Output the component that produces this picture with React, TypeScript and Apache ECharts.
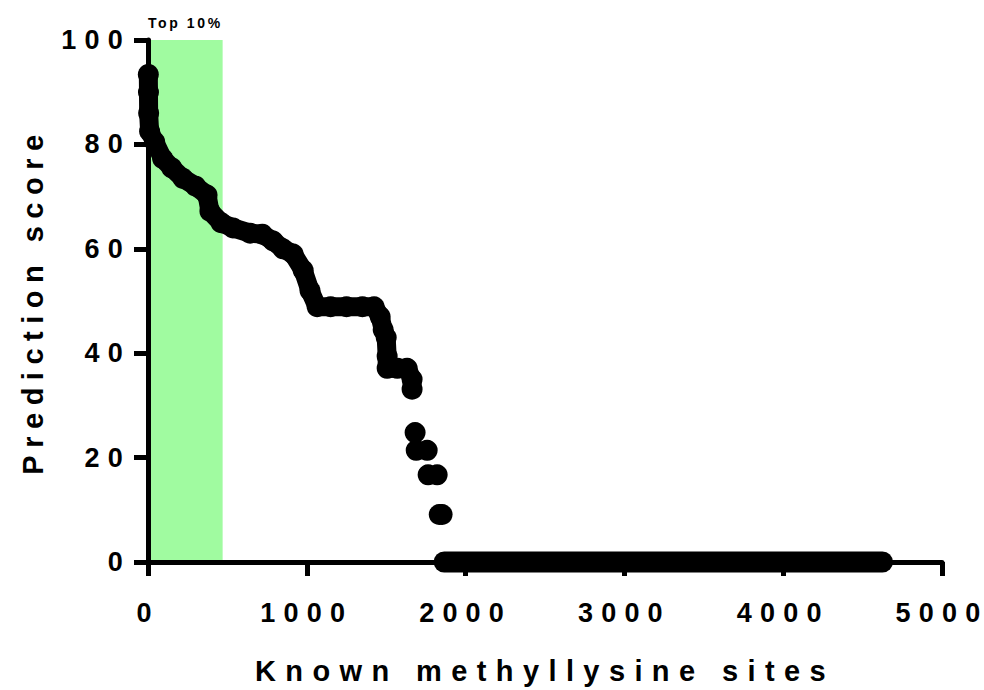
import React, { useEffect, useRef } from 'react';
import * as echarts from 'echarts';

// Axis ticks
const xTicks = [0, 1000, 2000, 3000, 4000, 5000];
const yTicks = [0, 20, 40, 60, 80, 100];

// Rank (x) and prediction score (y) of the densely packed, overlapping run of sites
const bandX = [2, 3, 4, 10, 42, 92, 150, 220, 300, 372, 390, 460, 535, 643, 720, 788, 850, 914, 977, 1020, 1065, 1150, 1250, 1350, 1424, 1462, 1481, 1500, 1506, 1506, 1570, 1632, 1663, 1663];
const bandY = [93.4, 90, 86, 82.5, 80.5, 77.3, 75.5, 73.5, 72, 70.3, 67.2, 65, 64, 63, 62.8, 61.5, 60, 59, 55.9, 52, 48.9, 48.9, 48.9, 48.9, 48.9, 47, 44.5, 43, 39.4, 37.1, 37.1, 37.1, 35, 33.1];

// Sparse sites
const looseX = [1682, 1689, 1758, 1764, 1821, 1834, 1852];
const looseY = [24.8, 21.4, 21.4, 16.7, 16.7, 9.1, 9.1];

// Sites scoring zero (continuous run)
const zeroX = [1865, 4625];
const zeroY = [0, 0];

// Top 10% region
const topLabel = 'Top 10%';
const topStart = 0;
const topEnd = 470;

const xName = 'Known methyllysine sites';
const yName = 'Prediction score';

const FONT = '"Liberation Sans", Arial, Helvetica, sans-serif';

const spacing: Record<string, number> = {
  [xName]: 9.4,
  [yName]: 7.5,
  [topLabel]: 2.6,
};

export default function App() {
  const ref = useRef<HTMLDivElement>(null);

  useEffect(() => {
    const el = ref.current;
    if (!el) return;
    const chart = echarts.init(el, undefined, { renderer: 'svg' });

    const axisCommon = {
      type: 'value' as const,
      z: 2,
      splitLine: { show: false },
      axisLine: { show: true, onZero: false, lineStyle: { color: '#000', width: 5 } },
      axisTick: { show: true, length: 14, lineStyle: { color: '#000', width: 5 } },
      nameLocation: 'middle' as const,
      nameTextStyle: { color: '#000', fontSize: 29, fontWeight: 'bold' as const, fontFamily: FONT },
    };

    chart.setOption({
      animation: false,
      grid: { left: 148, top: 40, width: 794, height: 528, containLabel: false },
      xAxis: {
        ...axisCommon,
        min: xTicks[0],
        max: xTicks[xTicks.length - 1],
        interval: xTicks[1] - xTicks[0],
        axisLabel: {
          color: '#000', fontSize: 27, fontWeight: 'bold', fontFamily: FONT, margin: 37,
          formatter: (v: number) => String(v),
        },
        name: xName,
        nameGap: 94,
      },
      yAxis: {
        ...axisCommon,
        min: yTicks[0],
        max: yTicks[yTicks.length - 1],
        interval: yTicks[1] - yTicks[0],
        axisLabel: {
          color: '#000', fontSize: 27, fontWeight: 'bold', fontFamily: FONT, margin: 17,
          formatter: (v: number) => String(v),
        },
        name: yName,
        nameGap: 101,
      },
      series: [
        {
          type: 'line',
          data: [],
          z: 1,
          silent: true,
          markArea: {
            silent: true,
            itemStyle: { color: '#a0fba0' },
            label: {
              show: true,
              position: 'top',
              distance: 10,
              formatter: topLabel,
              color: '#000',
              fontSize: 14,
              fontWeight: 'bold',
              fontFamily: FONT,
            },
            data: [[{ xAxis: topStart, yAxis: yTicks[yTicks.length - 1] }, { xAxis: topEnd, yAxis: yTicks[0] }]],
          },
        },
        {
          type: 'line',
          z: 3,
          clip: false,
          data: bandX.map((x, i) => [x, bandY[i]]),
          symbol: 'circle',
          symbolSize: 21,
          showSymbol: true,
          itemStyle: { color: '#000', opacity: 1 },
          lineStyle: { color: '#000', width: 19, cap: 'round', join: 'round' },
        },
        {
          type: 'scatter',
          z: 3,
          clip: false,
          data: looseX.map((x, i) => [x, looseY[i]]),
          symbol: 'circle',
          symbolSize: 21,
          itemStyle: { color: '#000', opacity: 1 },
        },
        {
          type: 'line',
          z: 3,
          clip: false,
          data: zeroX.map((x, i) => [x, zeroY[i]]),
          showSymbol: false,
          symbol: 'none',
          lineStyle: { color: '#000', width: 21, cap: 'round', join: 'round' },
        },
      ],
    });

    const apply = () => {
      el.querySelectorAll('text').forEach((t) => {
        const s = (t.textContent || '').trim();
        const ls = spacing[s] ?? 8.2;
        t.setAttribute('letter-spacing', ls + 'px');
        (t as SVGElement).style.letterSpacing = ls + 'px';
      });
    };
    chart.on('finished', apply);
    apply();
    const t1 = setTimeout(apply, 0);
    const t2 = setTimeout(apply, 100);
    const raf = requestAnimationFrame(apply);

    return () => {
      clearTimeout(t1);
      clearTimeout(t2);
      cancelAnimationFrame(raf);
      chart.dispose();
    };
  }, []);

  return (
    <div
      ref={ref}
      style={{ position: 'fixed', left: 0, top: 0, width: 984, height: 690, background: '#fff' }}
    />
  );
}
